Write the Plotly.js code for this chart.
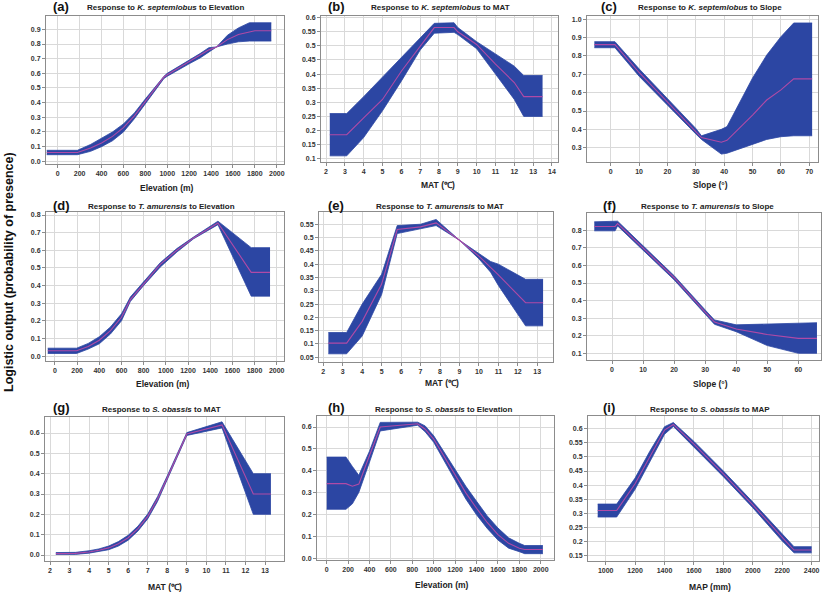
<!DOCTYPE html>
<html>
<head>
<meta charset="utf-8">
<script src="https://cdn.plot.ly/plotly-3.0.1.min.js"></script>
<style>html,body{margin:0;padding:0;background:#fff;}#chart{width:827px;height:595px;}</style>
</head>
<body>
<div id="chart"></div>
<script>
// ---- Data ----
// (a) K. septemlobus vs Elevation
const aX    = [-100, 180, 300, 400, 500, 600, 700, 800, 900, 970, 1000, 1100, 1200, 1300, 1380, 1450, 1550, 1650, 1750, 1800, 1950];
const aMean = [0.06,0.06,0.09,0.125,0.17,0.23,0.31,0.41,0.51,0.575,0.59,0.635,0.675,0.72,0.76,0.78,0.83,0.865,0.885,0.89,0.89];
const aUp   = [0.075,0.075,0.115,0.155,0.2,0.255,0.33,0.425,0.52,0.58,0.6,0.645,0.685,0.735,0.775,0.78,0.86,0.91,0.945,0.945,0.945];
const aLow  = [0.045,0.045,0.068,0.1,0.14,0.2,0.29,0.395,0.5,0.565,0.58,0.625,0.665,0.705,0.745,0.78,0.8,0.815,0.82,0.82,0.82];
// (b) K. septemlobus vs MAT
const bX    = [2.2, 3.1, 4, 5, 6, 7, 7.75, 8.8, 9, 10, 11, 12, 12.5, 13.5];
const bMean = [0.185,0.185,0.245,0.31,0.41,0.5,0.565,0.565,0.55,0.505,0.435,0.37,0.32,0.32];
const bUp   = [0.26,0.26,0.32,0.39,0.46,0.53,0.58,0.582,0.565,0.515,0.47,0.428,0.395,0.395];
const bLow  = [0.11,0.11,0.175,0.27,0.375,0.485,0.545,0.548,0.54,0.49,0.40,0.31,0.25,0.25];
// (c) K. septemlobus vs Slope
const cX    = [-5.75, 1.5, 10, 20, 30, 32, 39, 41, 50, 55, 60, 64.5, 71];
const cMean = [0.862,0.862,0.71,0.55,0.39,0.355,0.33,0.34,0.478,0.56,0.615,0.675,0.675];
const cUp   = [0.878,0.878,0.73,0.57,0.405,0.365,0.40,0.415,0.68,0.805,0.905,0.98,0.98];
const cLow  = [0.845,0.845,0.69,0.53,0.375,0.345,0.265,0.27,0.32,0.345,0.36,0.365,0.365];
// (d) T. amurensis vs Elevation
const dX    = [-65, 195, 300, 400, 500, 600, 680, 800, 950, 1100, 1250, 1470, 1770, 1940];
const dMean = [0.03,0.03,0.055,0.09,0.145,0.22,0.32,0.41,0.52,0.6,0.67,0.755,0.475,0.475];
const dUp   = [0.045,0.045,0.072,0.11,0.165,0.24,0.335,0.42,0.53,0.61,0.675,0.765,0.615,0.615];
const dLow  = [0.015,0.015,0.04,0.07,0.125,0.2,0.31,0.4,0.505,0.59,0.665,0.745,0.34,0.34];
// (e) T. amurensis vs MAT
const eX    = [2.26, 3.2, 4, 5, 5.8, 7, 7.8, 9, 10, 10.6, 11, 12.4, 13.3];
const eMean = [0.103,0.103,0.185,0.325,0.53,0.54,0.555,0.49,0.43,0.39,0.36,0.255,0.255];
const eUp   = [0.143,0.143,0.25,0.362,0.545,0.55,0.568,0.49,0.44,0.41,0.40,0.343,0.343];
const eLow  = [0.063,0.063,0.13,0.286,0.515,0.532,0.545,0.49,0.42,0.37,0.32,0.168,0.168];
// (f) T. amurensis vs Slope
const fX    = [-5.7, 1.0, 1.8, 10, 20, 30, 33, 40, 50, 60, 66];
const fMean = [0.822,0.822,0.838,0.70,0.53,0.335,0.278,0.238,0.207,0.185,0.185];
const fUp   = [0.848,0.848,0.852,0.712,0.542,0.347,0.29,0.262,0.266,0.274,0.274];
const fLow  = [0.797,0.797,0.825,0.688,0.518,0.323,0.265,0.223,0.144,0.10,0.10];
// (g) S. obassis vs MAT
const gX    = [2.3, 3.3, 4, 4.5, 5, 5.5, 6, 6.5, 7, 7.5, 8, 8.5, 9, 10.8, 12.4, 13.3];
const gMean = [0.007,0.008,0.015,0.023,0.035,0.055,0.085,0.13,0.19,0.275,0.38,0.49,0.595,0.64,0.30,0.30];
const gUp   = [0.012,0.013,0.021,0.03,0.044,0.066,0.097,0.142,0.202,0.287,0.39,0.5,0.602,0.655,0.40,0.40];
const gLow  = [0.003,0.003,0.009,0.016,0.026,0.044,0.073,0.118,0.178,0.263,0.37,0.48,0.588,0.625,0.20,0.20];
// (h) S. obassis vs Elevation
const hX    = [0, 180, 240, 300, 400, 500, 850, 920, 1000, 1100, 1200, 1300, 1400, 1500, 1600, 1700, 1800, 1850, 2020];
const hMean = [0.342,0.342,0.33,0.34,0.47,0.60,0.615,0.59,0.545,0.465,0.38,0.30,0.23,0.165,0.11,0.07,0.048,0.042,0.042];
const hUp   = [0.463,0.463,0.42,0.38,0.49,0.621,0.622,0.605,0.56,0.485,0.405,0.33,0.262,0.195,0.14,0.095,0.07,0.06,0.06];
const hLow  = [0.225,0.225,0.25,0.302,0.44,0.582,0.608,0.578,0.53,0.445,0.355,0.272,0.2,0.138,0.085,0.048,0.032,0.023,0.023];
// (i) S. obassis vs MAP
const iX    = [946, 1075, 1200, 1300, 1400, 1460, 1600, 1800, 2000, 2200, 2280, 2400];
const iMean = [0.31,0.31,0.405,0.50,0.595,0.615,0.545,0.44,0.33,0.215,0.17,0.17];
const iUp   = [0.333,0.333,0.425,0.52,0.607,0.622,0.555,0.45,0.34,0.228,0.182,0.182];
const iLow  = [0.287,0.287,0.385,0.48,0.58,0.608,0.535,0.43,0.32,0.202,0.16,0.16];

const letters = ['(a)','(b)','(c)','(d)','(e)','(f)','(g)','(h)','(i)'];
const titles = [
  'Response to <i>K. septemlobus</i> to Elevation',
  'Response to <i>K. septemlobus</i> to MAT',
  'Response to <i>K. septemlobus</i> to Slope',
  'Response to <i>T. amurensis</i> to Elevation',
  'Response to <i>T. amurensis</i> to MAT',
  'Response to <i>T. amurensis</i> to Slope',
  'Response to <i>S. obassis</i> to MAT',
  'Response to <i>S. obassis</i> to Elevation',
  'Response to <i>S. obassis</i> to MAP'
];
const xTitles = ['Elevation (m)','MAT (℃)','Slope (°)','Elevation (m)','MAT (℃)','Slope (°)','MAT (℃)','Elevation (m)','MAP (mm)'];
const yTitle = 'Logistic output (probability of presence)';

// ---- Layout geometry ----
const W = 827, H = 595;
const series = [
  [aX,aMean,aLow,aUp],[bX,bMean,bLow,bUp],[cX,cMean,cLow,cUp],
  [dX,dMean,dLow,dUp],[eX,eMean,eLow,eUp],[fX,fMean,fLow,fUp],
  [gX,gMean,gLow,gUp],[hX,hMean,hLow,hUp],[iX,iMean,iLow,iUp]
];
// pixel boxes [left,right,top,bottom]
const boxes = [
  [46,284,16,164],[321,558,16,162],[587,818,16,162],
  [46,284,212,361],[319,553,212,362],[587,821,213,360],
  [45,284,417,561],[317,554,416,560],[588,819,416,561]
];
const xRanges = [[-107,2066],[1.734,14.32],[-8.35,73.07],[-81,2066],[1.779,13.81],[-8.05,67.3],[1.744,13.97],[-90.7,2124],[880,2450]];
const yRanges = [[-0.0184,0.991],[0.0882,0.606],[0.222,1.018],[-0.0277,0.817],[0.0322,0.596],[0.0619,0.8985],[-0.0295,0.6787],[-0.0059,0.6501],[0.1312,0.645]];
const xDt = [200,1,10,200,1,10,1,200,200];
const yDt = [0.1,0.05,0.1,0.1,0.05,0.1,0.1,0.1,0.05];
const yFmt = ['.1f','','.1f','.1f','','','.1f','.1f',''];
const letterPos = [[61,7],[336,7],[609,7],[61,205],[336,205],[609,205],[61,407],[336,407],[609,407]];
const titlePos = [[165,8],[440,8],[710,8],[161,206],[440,206],[707,206],[161,409],[443,409],[710,409]];
const xTitlePos = [[167,188],[438,185],[710,185],[163,384],[442,383],[710,384],[165,587],[442,585],[710,587]];

const BAND = '#2c46a3';
const MEAN = '#b04aa6';
const FONT = 'Liberation Sans, Arial, sans-serif';

const traces = [];
const layout = {
  width: W, height: H,
  margin: {l:0, r:0, t:0, b:0},
  paper_bgcolor: '#ffffff', plot_bgcolor: '#ffffff',
  showlegend: false,
  font: {family: FONT, color: '#333'},
  annotations: []
};

function pxX(x){ return x / W; }
function pxY(y){ return 1 - y / H; }

series.forEach((s, k) => {
  const n = k + 1;
  const xa = 'x' + (n === 1 ? '' : n);
  const ya = 'y' + (n === 1 ? '' : n);
  const [xs, mean, lo, hi] = s;
  traces.push({x: xs, y: lo, xaxis: xa, yaxis: ya, mode: 'lines', line: {color: BAND, width: 0.8}, hoverinfo: 'skip'});
  traces.push({x: xs, y: hi, xaxis: xa, yaxis: ya, mode: 'lines', fill: 'tonexty', fillcolor: BAND, line: {color: BAND, width: 0.8}, hoverinfo: 'skip'});
  traces.push({x: xs, y: mean, xaxis: xa, yaxis: ya, mode: 'lines', line: {color: MEAN, width: 1.1}});

  const b = boxes[k];
  const axCommon = {
    showline: true, mirror: true, linecolor: '#8c8c8c', linewidth: 1,
    showgrid: true, gridcolor: '#d9d9d9', gridwidth: 1, zeroline: false,
    ticks: 'outside', ticklen: 3, tickcolor: '#8c8c8c',
    tickfont: {family: FONT, size: 7, color: '#333', weight: 'bold'}
  };
  layout['xaxis' + (n === 1 ? '' : n)] = Object.assign({}, axCommon, {
    domain: [pxX(b[0]), pxX(b[1])], anchor: ya, range: xRanges[k], dtick: xDt[k], tick0: 0
  });
  layout['yaxis' + (n === 1 ? '' : n)] = Object.assign({}, axCommon, {
    domain: [pxY(b[3]), pxY(b[2])], anchor: xa, range: yRanges[k], dtick: yDt[k], tick0: 0,
    tickformat: yFmt[k]
  });

  layout.annotations.push({text: '<b>' + letters[k] + '</b>', x: pxX(letterPos[k][0]), y: pxY(letterPos[k][1]),
    xref: 'paper', yref: 'paper', showarrow: false, xanchor: 'center', yanchor: 'middle',
    font: {family: FONT, size: 13, color: '#111'}});
  layout.annotations.push({text: '<b>' + titles[k] + '</b>', x: pxX(titlePos[k][0]), y: pxY(titlePos[k][1]),
    xref: 'paper', yref: 'paper', showarrow: false, xanchor: 'center', yanchor: 'middle',
    font: {family: FONT, size: 8, color: '#222'}});
  layout.annotations.push({text: '<b>' + xTitles[k] + '</b>', x: pxX(xTitlePos[k][0]), y: pxY(xTitlePos[k][1]),
    xref: 'paper', yref: 'paper', showarrow: false, xanchor: 'center', yanchor: 'middle',
    font: {family: FONT, size: 8.5, color: '#222'}});
});

layout.annotations.push({text: '<b>' + yTitle + '</b>', x: pxX(9), y: pxY(272), xref: 'paper', yref: 'paper',
  showarrow: false, textangle: -90, xanchor: 'center', yanchor: 'middle',
  font: {family: FONT, size: 12.5, color: '#111'}});

Plotly.newPlot('chart', traces, layout, {displayModeBar: false, staticPlot: true});
</script>
</body>
</html>
